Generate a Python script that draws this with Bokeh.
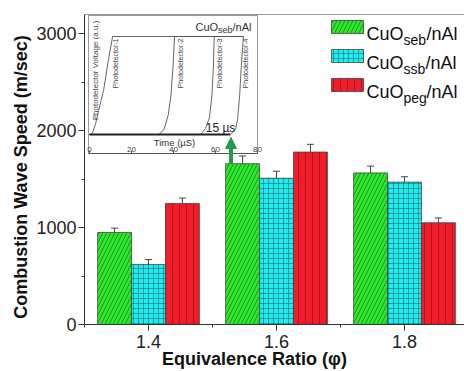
import numpy as np
from bokeh.plotting import figure
from bokeh.models import (Range1d, ColumnDataSource, Whisker, TeeHead, Arrow, NormalHead,
                          Span, FixedTicker)
from bokeh.transform import dodge
from bokeh.core.properties import value
from bokeh.embed import file_html
from bokeh.resources import INLINE

# ---------------- data ----------------
ratios = [1.4, 1.6, 1.8]
x_ticks = [1.4, 1.6, 1.8]
x_minor = [1.3, 1.5, 1.7]
y_ticks = [0, 1000, 2000, 3000]
y_minor = [500, 1500, 2500]

seb = [950, 1660, 1565]
seb_err = [45, 80, 70]
ssb = [620, 1510, 1470]
ssb_err = [50, 72, 55]
peg = [1250, 1780, 1050]
peg_err = [55, 80, 50]

legend_main = ["CuO", "CuO", "CuO"]
legend_sub = ["seb", "ssb", "peg"]
legend_tail = ["/nAl", "/nAl", "/nAl"]

x_title = "Equivalence Ratio (\u03c6)"
y_title = "Combustion Wave Speed (m/sec)"

# inset (photodetector traces), time in microseconds, voltage normalised
inset_ticks = [0, 20, 40, 60, 80]
pd1_t = [0, 1.3, 2.9, 4.3, 6.7, 9.0, 11.0, 73.3]
pd1_v = [0, 0.01, 0.11, 0.24, 0.45, 0.76, 1.0, 1.0]
pd2_t = [0, 33.0, 35.5, 37.5, 38.8, 39.8, 40.5, 73.3]
pd2_v = [0, 0.0, 0.05, 0.2, 0.4, 0.7, 1.0, 1.0]
pd3_t = [0, 53.0, 55.2, 57.1, 58.3, 59.0, 59.4, 73.3]
pd3_v = [0, 0.0, 0.06, 0.17, 0.4, 0.7, 1.0, 1.0]
pd4_t = [0, 67.0, 69.5, 70.5, 71.5, 72.3, 73.3]
pd4_v = [0, 0.0, 0.05, 0.15, 0.4, 0.7, 1.0]
pd_names = ["Photodetector-1", "Photodetector-2", "Photodetector-3", "Photodetector-4"]
pd_label_t = [12.4, 43.1, 61.7, 74.5]

# ---------------- layout constants ----------------
W, H = 464, 371
FL, FT, FB, FR = 84, 14, 324, 464
X0, X1 = 1.3, 1.3 + (FR - FL) / 640.0
Y0, Y1 = 0, 3200
XPX = (FR - FL) / (X1 - X0)
YPX = (FB - FT) / (Y1 - Y0)


def dx(px):
    return X0 + (px - FL) / XPX


def dy(py):
    return Y0 + (FB - py) / YPX


FONT = "Liberation Sans"
BW = 0.053
GREEN, CYAN, RED = "#2ae82a", "#1eeeee", "#f01c2a"
NB = "\u00a0"

p = figure(width=W, height=H, x_range=Range1d(X0, X1), y_range=Range1d(Y0, Y1),
           output_backend="svg", toolbar_location=None,
           min_border_left=FL, min_border_right=W - FR, min_border_top=FT,
           min_border_bottom=H - FB)
p.grid.visible = False
p.outline_line_color = None
p.background_fill_color = "white"
p.border_fill_color = "white"

for ax in (p.xaxis[0], p.yaxis[0]):
    ax.axis_line_color = "#333333"
    ax.major_tick_line_color = "#333333"
    ax.minor_tick_line_color = "#333333"
    ax.major_tick_out = 6
    ax.major_tick_in = 0
    ax.minor_tick_out = 3
    ax.minor_tick_in = 0
    ax.major_label_text_font = FONT
    ax.major_label_text_font_size = "18px"
    ax.major_label_text_color = "#222222"
    ax.axis_label_text_font = FONT
    ax.axis_label_text_font_size = "18px"
    ax.axis_label_text_font_style = "bold"
    ax.axis_label_text_color = "#111111"
p.xaxis.ticker = FixedTicker(ticks=x_ticks, minor_ticks=x_minor)
p.yaxis.ticker = FixedTicker(ticks=y_ticks, minor_ticks=y_minor)
p.xaxis.major_label_standoff = 4
p.yaxis.major_label_standoff = 2
p.xaxis.axis_label = x_title + NB * 8
p.xaxis.axis_label_standoff = -2
p.yaxis.axis_label = y_title + NB * 3
p.yaxis.axis_label_standoff = 2

p.add_layout(Span(location=Y1, dimension="width", line_color="#333333", line_width=1))

# ---------------- bars ----------------
src = ColumnDataSource(dict(
    x=ratios, seb=seb, ssb=ssb, peg=peg,
    seb_hi=np.array(seb) + np.array(seb_err), seb_lo=np.array(seb) - np.array(seb_err),
    ssb_hi=np.array(ssb) + np.array(ssb_err), ssb_lo=np.array(ssb) - np.array(ssb_err),
    peg_hi=np.array(peg) + np.array(peg_err), peg_lo=np.array(peg) - np.array(peg_err),
))

styles = {
    "seb": dict(fill_color=GREEN, hatch_pattern="/", hatch_color="#1f4a1f", hatch_scale=8,
                hatch_weight=0.7, hatch_alpha=0.8),
    "ssb": dict(fill_color=CYAN, hatch_pattern="+", hatch_color="#1f4a5a", hatch_scale=5,
                hatch_weight=0.6, hatch_alpha=0.8),
    "peg": dict(fill_color=RED, hatch_pattern="|", hatch_color="#7a1010", hatch_scale=7,
                hatch_weight=0.7, hatch_alpha=0.8),
}
offsets = {"seb": -BW, "ssb": 0.0, "peg": BW}

for key in ["seb", "ssb", "peg"]:
    p.vbar(x=dodge("x", offsets[key], range=p.x_range), top=key, bottom=0, width=BW,
           source=src, line_color="#444444", line_width=0.8, **styles[key])
    p.add_layout(Whisker(source=src, base=dodge("x", offsets[key], range=p.x_range),
                         upper=key + "_hi", lower=key + "_lo",
                         line_color="#444444", line_width=1,
                         upper_head=TeeHead(size=7, line_color="#444444", line_width=1),
                         lower_head=TeeHead(size=7, line_color="#444444", line_width=1)))

# ---------------- legend (manual, with subscripts) ----------------
row_top = [20, 49, 78]
tail_px = [426, 425, 426]
for i, key in enumerate(["seb", "ssb", "peg"]):
    t = row_top[i]
    p.quad(left=dx(331), right=dx(363), top=dy(t), bottom=dy(t + 13),
           line_color="#444444", line_width=0.8, **styles[key])
    p.text(x=[dx(366)], y=[dy(t + 13)], text=[legend_main[i]], text_font=value(FONT),
           text_font_size="18px", text_align="left", text_baseline="alphabetic", text_color="#111111")
    p.text(x=[dx(403)], y=[dy(t + 19)], text=[legend_sub[i]], text_font=value(FONT),
           text_font_size="14px", text_align="left", text_baseline="alphabetic", text_color="#111111")
    p.text(x=[dx(tail_px[i])], y=[dy(t + 13)], text=[legend_tail[i]], text_font=value(FONT),
           text_font_size="18px", text_align="left", text_baseline="alphabetic", text_color="#111111")

# ---------------- arrow ----------------
p.add_layout(Arrow(end=NormalHead(size=11, fill_color="#1f9d4c", line_color="#1f9d4c"),
                   x_start=dx(230.5), y_start=seb[1], x_end=dx(230.5), y_end=dy(137),
                   line_color="#1f9d4c", line_width=4))

# ---------------- inset (through extra ranges) ----------------
IX0 = 89  # pixel of t=0
IPX = 2.1  # px per microsecond
IV0 = 134  # pixel of V=0
IVPX = 98  # px per unit V
p.extra_x_ranges = {"ix": Range1d((FL - IX0) / IPX, (FR - IX0) / IPX)}
p.extra_y_ranges = {"iy": Range1d((IV0 - FB) / IVPX, (IV0 - FT) / IVPX)}
ik = dict(x_range_name="ix", y_range_name="iy")

ib = (IV0 - 153) / IVPX   # inset x-axis line
itop = (IV0 - 15) / IVPX
ileft = (88 - IX0) / IPX
p.quad(left=ileft, right=inset_ticks[-1], bottom=ib, top=itop, fill_color="white",
       line_color="#999999", line_width=1, **ik)
p.segment(x0=[ileft], x1=[inset_ticks[-1]], y0=[ib], y1=[ib], line_color="#555555", line_width=1, **ik)
p.segment(x0=inset_ticks, x1=inset_ticks, y0=[ib] * len(inset_ticks),
          y1=[ib + 3 / IVPX] * len(inset_ticks), line_color="#555555", line_width=1, **ik)
p.text(x=inset_ticks, y=[(IV0 - 149) / IVPX] * len(inset_ticks), text=[str(t) for t in inset_ticks],
       text_font=value(FONT), text_font_size="8px", text_align="center", text_baseline="middle",
       text_color="#444444", **ik)

for tt, vv in [(pd1_t, pd1_v), (pd2_t, pd2_v), (pd3_t, pd3_v), (pd4_t, pd4_v)]:
    p.line(tt, vv, line_color="#555555", line_width=0.9, **ik)
p.line([pd1_t[0], pd4_t[1]], [0, 0], line_color="#222222", line_width=2.2, **ik)

p.text(x=pd_label_t, y=[(IV0 - 38) / IVPX] * 4, text=pd_names, angle=np.pi / 2,
       text_font=value(FONT), text_font_size="7px", text_align="right", text_baseline="middle",
       text_color="#444444", **ik)
p.text(x=[(95 - IX0) / IPX], y=[(IV0 - 70) / IVPX], text=["Photodetector Voltage (a.u.)"],
       angle=np.pi / 2, text_font=value(FONT), text_font_size="8px", text_align="center",
       text_baseline="middle", text_color="#444444", **ik)
p.text(x=[(174 - IX0) / IPX], y=[(IV0 - 141.5) / IVPX], text=["Time (\u00b5S)"],
       text_font=value(FONT), text_font_size="9.5px", text_align="center", text_baseline="middle",
       text_color="#333333", **ik)
p.text(x=[(220 - IX0) / IPX], y=[(IV0 - 127) / IVPX], text=["15 \u00b5s"],
       text_font=value(FONT), text_font_size="12px", text_align="center", text_baseline="middle",
       text_color="#222222", **ik)
# inset title with subscript
p.text(x=[(195 - IX0) / IPX], y=[(IV0 - 26) / IVPX], text=["CuO"], text_font=value(FONT),
       text_font_size="11px", text_align="left", text_baseline="alphabetic", text_color="#333333", **ik)
p.text(x=[(217.6 - IX0) / IPX], y=[(IV0 - 29.5) / IVPX], text=["seb"], text_font=value(FONT),
       text_font_size="9px", text_align="left", text_baseline="alphabetic", text_color="#333333", **ik)
p.text(x=[(232 - IX0) / IPX], y=[(IV0 - 26) / IVPX], text=["/nAl"], text_font=value(FONT),
       text_font_size="11px", text_align="left", text_baseline="alphabetic", text_color="#333333", **ik)

open("out.html", "w").write(file_html(p, INLINE))
